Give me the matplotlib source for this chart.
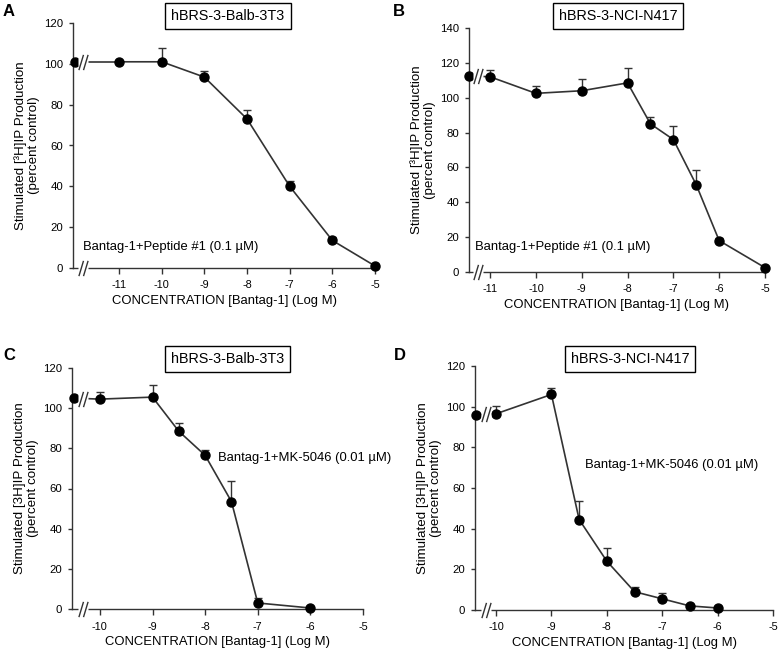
import numpy as np
import matplotlib.pyplot as plt
from matplotlib.path import Path

plt.rcParams['font.family'] = ['Liberation Sans', 'DejaVu Sans']

# panel data: dose (log M), response (percent control), upper error
a_x = [-11, -10, -9, -8, -7, -6, -5]
a_y = [101, 101, 93.5, 73, 40, 13.5, 1]
a_err = [0.5, 7, 3, 4.5, 2.5, 1.5, 0.3]
a_ctrl = 101

b_x = [-11, -10, -9, -8, -7.5, -7, -6.5, -6, -5]
b_y = [112, 102.5, 104, 108.5, 85, 76, 50, 18, 2.5]
b_err = [4, 4, 6.5, 8.5, 4, 8, 8.5, 1.5, 0.3]
b_ctrl = 112.5

c_x = [-10, -9, -8.5, -8, -7.5, -7, -6]
c_y = [104.5, 105.5, 88.5, 76.5, 53.5, 3, 0.5]
c_err = [3.5, 6, 4, 2.5, 10, 2.5, 0.3]
c_ctrl = 105

d_x = [-10, -9, -8.5, -8, -7.5, -7, -6.5, -6]
d_y = [96.5, 106, 44.5, 24, 9, 5.5, 2, 1]
d_err = [4, 3, 9, 6.5, 2.5, 3, 0.5, 0.3]
d_ctrl = 96

W, H = 778, 649
fig = plt.figure(figsize=(W / 100, H / 100), dpi=100)

lc = '#333333'
slash = Path([(-1.8, -3), (0, 3), (0, -3), (1.8, 3)],
             [Path.MOVETO, Path.LINETO, Path.MOVETO, Path.LINETO])


def px_axes(l, r, b, t):
    return fig.add_axes([l / W, 1 - b / H, (r - l) / W, (b - t) / H])


def brk(ax, x, y):
    ax.plot([x], [y], marker='s', ms=7, mfc='white', mec='none', ls='none',
            clip_on=False, zorder=5)
    ax.plot([x], [y], marker=slash, ms=11, mfc='none', mec=lc, mew=1.0,
            ls='none', clip_on=False, zorder=6)


def panel(box, xlim, ymax, xs, ys, errs, ctrl, ctrl_x, brk_top, brk_bot,
          xticks, ylab, title, tpos, letter, lpos, note, npos):
    ax = px_axes(*box)
    ax.set_xlim(*xlim)
    ax.set_ylim(0, ymax)
    for s in ['top', 'right']:
        ax.spines[s].set_visible(False)
    for s in ['left', 'bottom']:
        ax.spines[s].set_color(lc)
        ax.spines[s].set_linewidth(1.0)
    ax.set_yticks(np.arange(0, ymax + 1, 20))
    ax.set_xticks(xticks)
    ax.set_xticklabels([str(t) for t in xticks])
    ax.tick_params(axis='y', labelsize=8.2, length=3, width=1.0, color=lc, pad=4)
    ax.tick_params(axis='x', labelsize=7.8, length=4, width=1.0, color=lc, pad=5)
    # control point joined to first dose
    ax.plot([ctrl_x, xs[0]], [ctrl, ys[0]], color=lc, lw=1.2, zorder=2,
            clip_on=False)
    ax.plot([ctrl_x], [ctrl], 'o', color='black', ms=6.5, zorder=4, clip_on=False)
    ax.plot(xs, ys, color=lc, lw=1.2, zorder=2, clip_on=False)
    ax.errorbar(xs, ys, yerr=[np.zeros(len(errs)), errs], fmt='o', color='black',
                ecolor=lc, elinewidth=1.0, capsize=3, ms=6.5, zorder=4,
                clip_on=False)
    brk(ax, brk_top, (ctrl + ys[0]) / 2)
    brk(ax, brk_bot, 0)
    ax.set_ylabel(ylab, fontsize=9.6, labelpad=3, linespacing=1.15)
    ax.set_xlabel('CONCENTRATION [Bantag-1] (Log M)', fontsize=9.4, labelpad=3)
    fig.text(tpos[0] / W, 1 - tpos[1] / H, title, fontsize=10.4, ha='center',
             va='center',
             bbox=dict(boxstyle='square,pad=0.42', fc='white', ec='black', lw=1.0))
    fig.text(lpos[0] / W, 1 - lpos[1] / H, letter, fontsize=12, weight='bold',
             ha='left', va='center')
    ax.text(npos[0], npos[1], note, fontsize=9.4, ha='left', va='center')
    return ax


lab1 = 'Stimulated [³H]IP Production\n(percent control)'
lab2 = 'Stimulated [3H]IP Production\n(percent control)'

panel((73, 375, 268, 23), (-12.08, -5), 120, a_x, a_y, a_err, a_ctrl, -12.03,
      -11.85, -11.85, [-11, -10, -9, -8, -7, -6, -5], lab1, 'hBRS-3-Balb-3T3',
      (228, 16), 'A', (3, 11), 'Bantag-1+Peptide #1 (0.1 µM)', (-11.85, 10.3))
panel((469, 765, 272, 28), (-11.46, -5), 140, b_x, b_y, b_err, b_ctrl, -11.46,
      -11.26, -11.26, [-11, -10, -9, -8, -7, -6, -5], lab1, 'hBRS-3-NCI-N417',
      (618, 16), 'B', (393, 11), 'Bantag-1+Peptide #1 (0.1 µM)', (-11.33, 14.3))
panel((72, 363, 609, 368), (-10.53, -5), 120, c_x, c_y, c_err, c_ctrl, -10.49,
      -10.32, -10.32, [-10, -9, -8, -7, -6, -5], lab2, 'hBRS-3-Balb-3T3',
      (227.5, 359), 'C', (3, 356), 'Bantag-1+MK-5046 (0.01 µM)', (-7.76, 75.2))
panel((475, 773, 610, 366), (-10.38, -5), 120, d_x, d_y, d_err, d_ctrl, -10.36,
      -10.18, -10.18, [-10, -9, -8, -7, -6, -5], lab2, 'hBRS-3-NCI-N417',
      (630, 359), 'D', (394, 356), 'Bantag-1+MK-5046 (0.01 µM)', (-8.39, 71.3))

fig.savefig('out.png', dpi=100)
